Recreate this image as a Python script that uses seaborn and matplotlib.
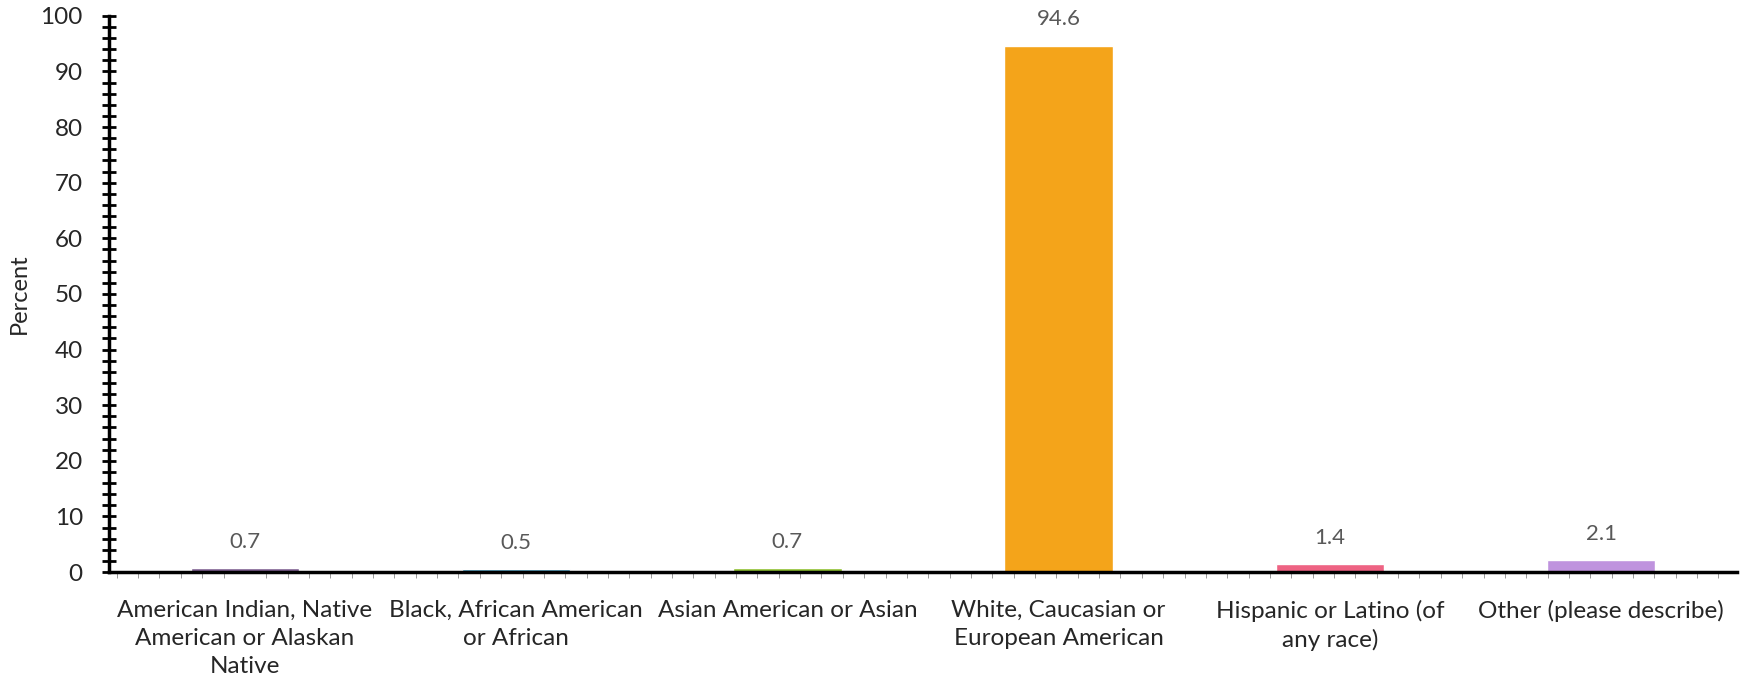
import matplotlib
matplotlib.use("Agg")
import matplotlib.pyplot as plt
import seaborn as sns
import pandas as pd
from matplotlib.ticker import MultipleLocator

categories = [
    "American Indian, Native\nAmerican or Alaskan\nNative",
    "Black, African American\nor African",
    "Asian American or Asian",
    "White, Caucasian or\nEuropean American",
    "Hispanic or Latino (of\nany race)",
    "Other (please describe)",
]
percent = [0.7, 0.5, 0.7, 94.6, 1.4, 2.1]
colors = ["#7E5F91", "#3B8FB0", "#8DBF2E", "#F4A41A", "#EE6383", "#BF93DE"]

sns.set_style("white")
plt.rcParams["font.family"] = ["Lato", "DejaVu Sans"]

df = pd.DataFrame({"cat": categories, "pct": percent})

fig = plt.figure(figsize=(17.48, 6.86), dpi=100)
ax = fig.add_axes([0.0625, 0.166, 0.931, 0.811])

sns.barplot(data=df, x="cat", y="pct", hue="cat", palette=colors,
            width=0.4, legend=False, ax=ax, saturation=1)

for c in ax.containers:
    ax.bar_label(c, fmt="%.1f", padding=12, fontsize=16, color="#595959")

ax.set_ylim(0, 100)
ax.set_xlim(-0.5, 5.5)
ax.yaxis.set_major_locator(MultipleLocator(10))
ax.yaxis.set_minor_locator(MultipleLocator(2))
ax.xaxis.set_minor_locator(MultipleLocator(1 / 12.7))

ax.tick_params(axis="y", which="both", direction="inout", length=10, width=2,
               color="black", left=True)
ax.tick_params(axis="y", which="major", labelsize=17.5, pad=14)
ax.tick_params(axis="x", which="major", length=0, labelsize=17.5, pad=20)
ax.tick_params(axis="x", which="minor", direction="out", length=4, width=0.6,
               color="#888888", bottom=True)
for lbl in ax.get_xticklabels():
    lbl.set_linespacing(1.4)

ax.set_xlabel("")
ax.set_ylabel("Percent", fontsize=17)
ax.yaxis.set_label_coords(-0.049, 0.5)

for s in ["top", "right"]:
    ax.spines[s].set_visible(False)
for s in ["left", "bottom"]:
    ax.spines[s].set_color("black")
    ax.spines[s].set_linewidth(2.5)

fig.savefig("out.png", dpi=100)
